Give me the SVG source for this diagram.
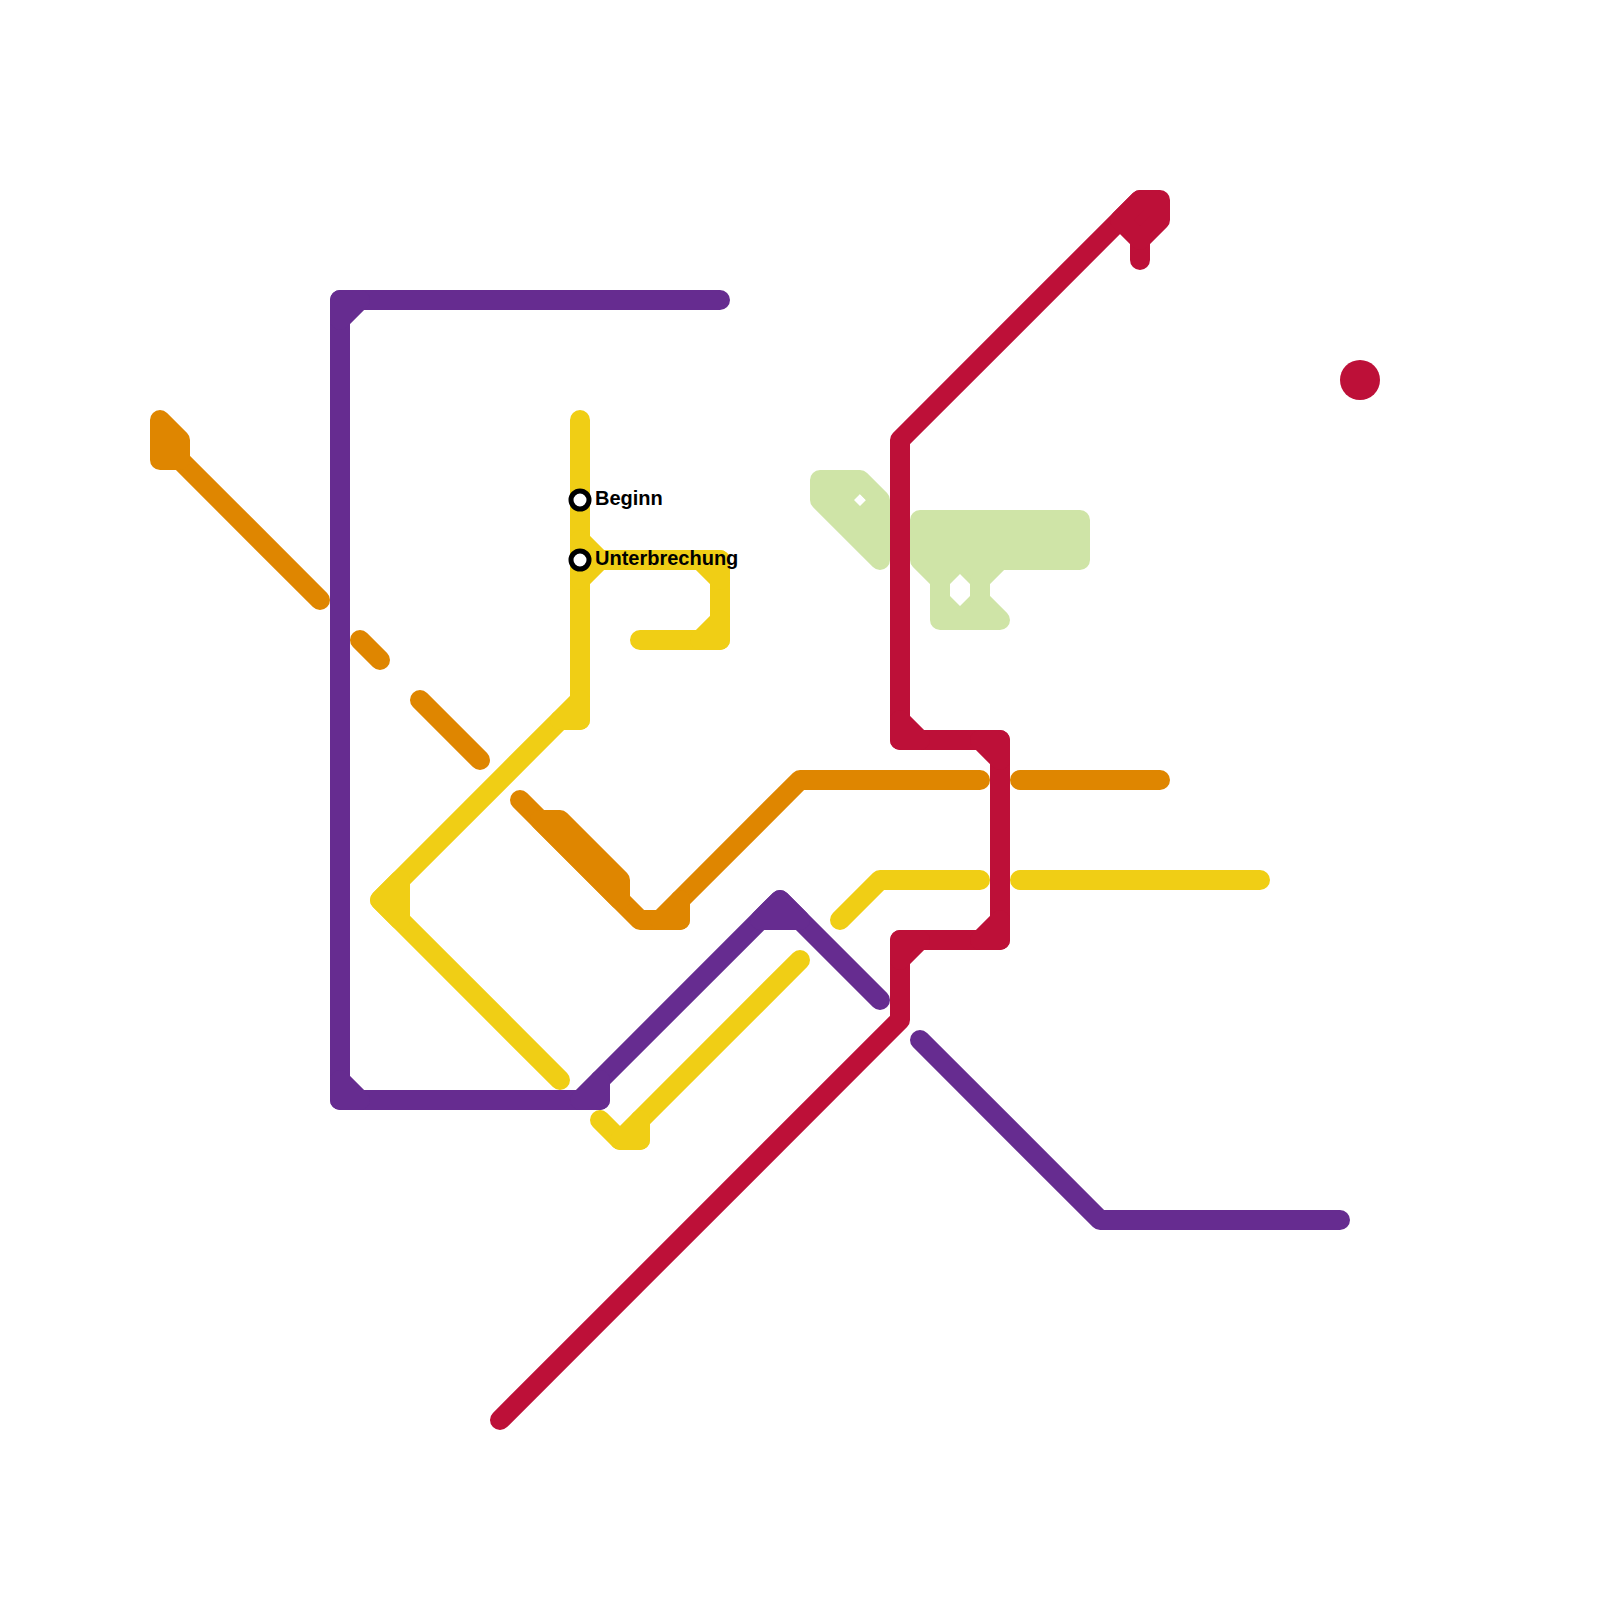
<svg xmlns="http://www.w3.org/2000/svg" width="1600" height="1600" viewBox="0 0 1600 1600">
<style>
.l{fill:none;stroke-width:20;stroke-linecap:round;stroke-linejoin:round}
.w{stroke-width:20;stroke-linecap:round;stroke-linejoin:round}
.p{stroke:#662c90}.r{stroke:#bd1038}.o{stroke:#df8600}.y{stroke:#f0ce15}
.pf{fill:#662c90}.rf{fill:#bd1038}.of{fill:#df8600}.yf{fill:#f0ce15}
.gs{fill:none;stroke:#cfe4a7;stroke-width:20;stroke-linejoin:round}
.gf{fill:#cfe4a7;fill-rule:evenodd}
.st{fill:#fff;stroke:#000;stroke-width:5}
.t{font-family:"Liberation Sans",Arial,sans-serif;font-weight:700;font-size:20px;fill:#000}
</style>
<rect width="1600" height="1600" fill="#fff"/>
<g id="connectors">
<g id="line-green">
<path class="gf" d="M820 480H860L880 500V560L820 500ZM860 494L866 500L860 506L854 500Z"/>
<path class="gs" d="M820 480H860L880 500V560L820 500Z"/>
<path class="gf" d="M920 520H1080V560H1000L980 580V600L1000 620H940V580L920 560ZM960 574L970 584V596L960 606L950 596V584Z"/>
<path class="gs" d="M920 520H1080V560H1000L980 580V600L1000 620H940V580L920 560Z"/>
</g>
<g id="line-orange">
<path class="l o" d="M180 460L320 600M360 640L380 660M420 700L480 760M520 800L640 920H680V900L800 780H980M1020 780H1160"/>
<path class="w o of" d="M160 420L180 440V460H160ZM540 820H560L620 880V900ZM660 920L680 900V920Z"/>
</g>
<g id="line-yellow">
<path class="l y" d="M580 420V720H560L380 900L560 1080M580 560H720V640H640M600 1120L620 1140H640V1120L800 960M840 920L880 880H980M1020 880H1260"/>
<path class="w y yf" d="M580 700V720H560ZM380 900L400 880V920ZM580 540L600 560H580ZM580 580L600 560H580ZM700 560H720V580ZM720 620V640H700ZM620 1140H640V1120Z"/>
</g>
<g id="line-purple">
<path class="l p" d="M720 300H340V1100H600V1080L780 900L880 1000M920 1040L1100 1220H1340"/>
<path class="w p pf" d="M340 300H360L340 320ZM340 1080L360 1100H340ZM580 1100L600 1080V1100ZM780 900L800 920H760Z"/>
</g>
<g id="line-red">
<path class="l r" d="M500 1420L900 1020V940H1000V740H900V440L1140 200M1140 240V260"/>
<path class="w r rf" d="M1140 200H1160V220L1140 240L1120 220ZM900 720L920 740H900ZM980 740H1000V760ZM1000 920V940H980ZM900 940H920L900 960Z"/>
</g>
</g>
<g id="node-red"><circle cx="1360" cy="380" r="20" class="rf"/></g>
<g id="node-beginn"><circle cx="580" cy="500" r="9" class="st"/><text class="t" x="595" y="505">Beginn</text></g>
<g id="node-unterbrechung"><circle cx="580" cy="560" r="9" class="st"/><text class="t" x="595" y="565">Unterbrechung</text></g>
</svg>
